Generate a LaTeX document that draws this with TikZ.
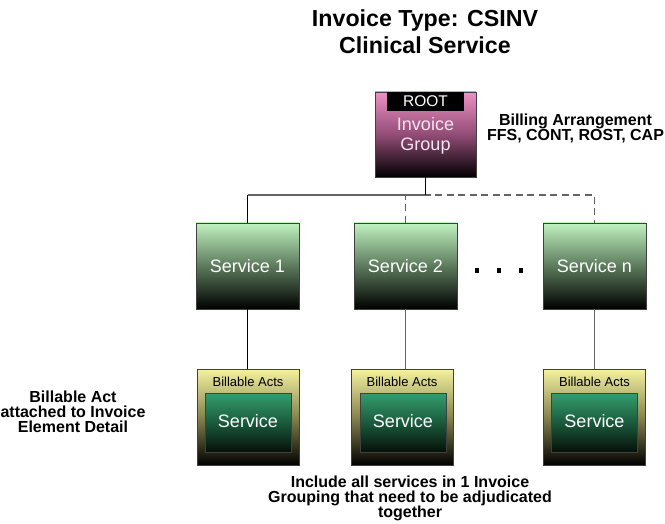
\documentclass[tikz,border=0pt]{standalone}
\usepackage{fontspec}
\setmainfont{Liberation Sans}
\usetikzlibrary{shadings}
\definecolor{rootpink}{RGB}{236,145,196}
\definecolor{rootmid}{RGB}{146,76,118}
\definecolor{srvtop}{RGB}{192,242,192}
\definecolor{srvmid}{RGB}{92,122,92}
\definecolor{billtop}{RGB}{245,242,160}
\definecolor{billmid}{RGB}{135,132,80}
\definecolor{intop}{RGB}{52,158,110}
\definecolor{inmid}{RGB}{26,90,60}
\definecolor{inbot}{RGB}{5,16,8}
\definecolor{linegray}{RGB}{100,100,100}
\definecolor{grptext}{RGB}{246,228,240}
\begin{document}
\begin{tikzpicture}[x=1pt,y=-1pt,
  box/.style={draw=black!75, line width=0.8pt, rectangle, inner sep=0pt},
  rootbox/.style={box, minimum width=101pt, minimum height=85pt,
    top color=rootpink, bottom color=black, middle color=rootmid},
  srvbox/.style={box, minimum width=103pt, minimum height=86pt,
    top color=srvtop, bottom color=black, middle color=srvmid,
    text=white, font=\fontsize{18}{21}\selectfont},
  billbox/.style={box, minimum width=102pt, minimum height=96pt,
    top color=billtop, bottom color=black, middle color=billmid},
  innerbox/.style={box, minimum width=86pt, minimum height=59pt,
    top color=intop, bottom color=inbot, middle color=inmid},
  innertext/.style={text=white, inner sep=0pt, font=\fontsize{18}{21}\selectfont},
  billtext/.style={text=black, inner sep=0pt, font=\fontsize{13}{15}\selectfont},
  note/.style={align=center, inner sep=0pt, anchor=north,
    font=\bfseries\fontsize{16}{15}\selectfont},
  solidline/.style={line width=1.1pt, draw=black},
  grayline/.style={line width=1.1pt, draw=linegray},
  dashline/.style={line width=1.2pt, draw=linegray, dash pattern=on 7pt off 4.5pt},
  dotsq/.style={fill=black, inner sep=0pt, minimum size=4.5pt}
]
\useasboundingbox (0,0) rectangle (665,524);

% title
\node[align=center, inner sep=0pt, anchor=north,
      font=\bfseries\fontsize{23.2}{27}\selectfont] (title) at (425,9.4)
      {Invoice Type: CSINV\\Clinical Service};

% root
\node[rootbox] (root) at (425.5,134.5) {};
\node[fill=black, inner sep=0pt, minimum width=77pt, minimum height=19pt,
      text=white, font=\fontsize{15.5}{17}\selectfont] (rootlbl) at (425.5,101.5) {ROOT};
\node[align=center, inner sep=0pt, anchor=north, text=grptext,
      font=\fontsize{18}{20}\selectfont] (grp) at (425.5,117) {Invoice\\Group};

\node[note] (billing) at (575.5,114.2) {Billing Arrangement\\FFS, CONT, ROST, CAP};

% services
\node[srvbox] (s1) at (247.5,266) {Service 1};
\node[srvbox] (s2) at (405.5,266) {Service 2};
\node[srvbox] (sn) at (594.5,266) {Service n};

% dots
\node[dotsq] (d1) at (477,270.5) {};
\node[dotsq] (d2) at (499,270.5) {};
\node[dotsq] (d3) at (521,270.5) {};

% billable acts
\node[billbox] (b1) at (248,417) {};
\node[billbox] (b2) at (402,417) {};
\node[billbox] (bn) at (594.5,417) {};
\node[billtext] (bt1) at (248,382) {Billable Acts};
\node[billtext] (bt2) at (402,382) {Billable Acts};
\node[billtext] (btn) at (594.5,382) {Billable Acts};
\node[innerbox] (i1) at (248,422.5) {};
\node[innerbox] (i2) at (403,422.5) {};
\node[innerbox] (in) at (594.5,422.5) {};
\node[innertext] (it1) at (248,421) {Service};
\node[innertext] (it2) at (403,421) {Service};
\node[innertext] (itn) at (594.5,421) {Service};

% notes
\node[note] (leftnote) at (73,390.5) {Billable Act\\attached to Invoice\\Element Detail};
\node[note] (botnote) at (410,475.5) {Include all services in 1 Invoice\\Grouping that need to be adjudicated\\together};

% connectors
\coordinate (j) at (425.5,195);
\draw[dashline] (s2.north) -- (s2.north |- j) -| (sn.north);
\draw[grayline] (j) -- (s1.north |- j);
\draw[solidline] (root.south) -- (j);
\draw[solidline] (s1.north |- j) -- (s1.north);
\draw[solidline] (s1.south) -- (s1.south |- b1.north);
\draw[grayline] (s2.south) -- (s2.south |- b2.north);
\draw[grayline] (sn.south) -- (sn.south |- bn.north);
\end{tikzpicture}
\end{document}
